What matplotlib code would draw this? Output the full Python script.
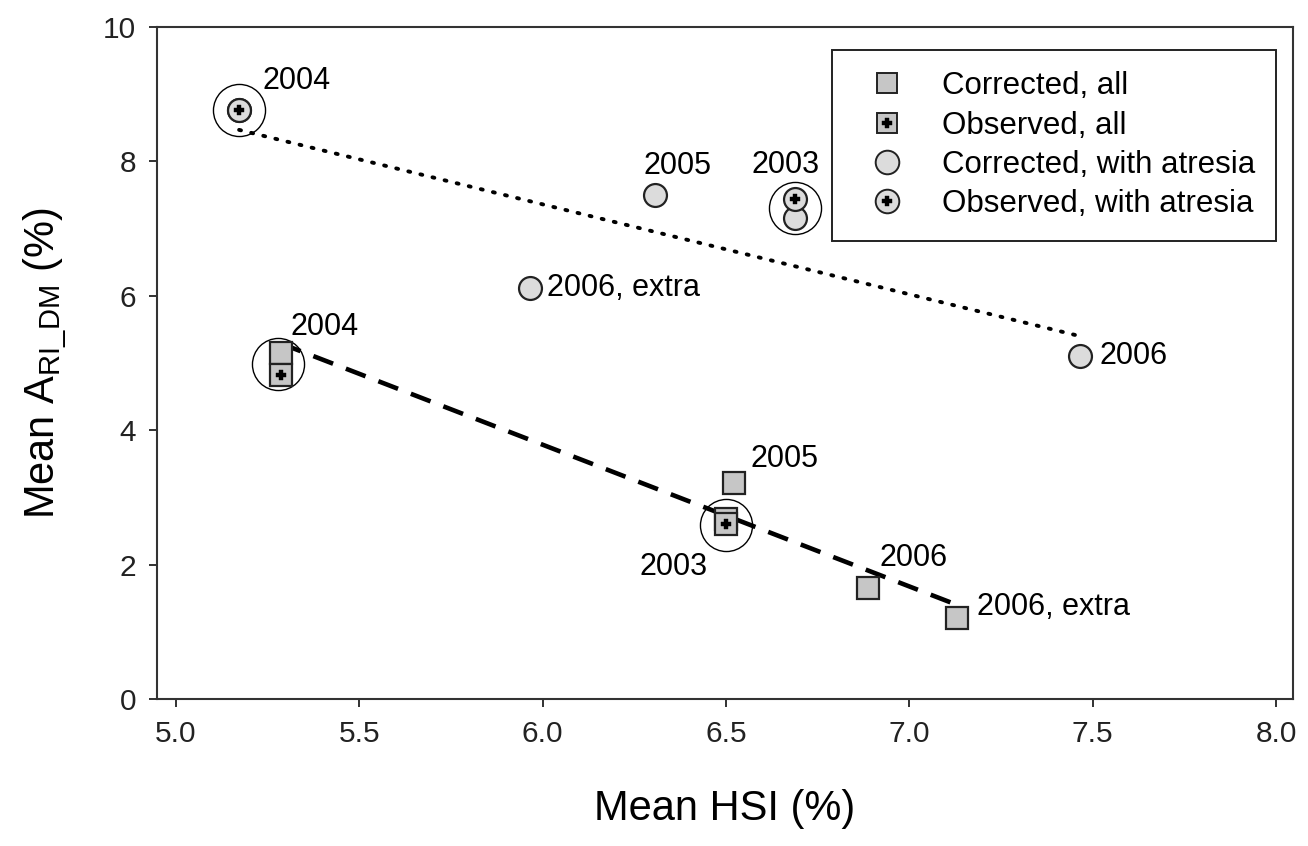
import matplotlib
matplotlib.use("Agg")
import matplotlib.pyplot as plt
from matplotlib.lines import Line2D

plt.rcParams['font.family'] = ['Liberation Sans', 'DejaVu Sans']
plt.rcParams['mathtext.default'] = 'regular'

# all fish: corrected / observed (mean HSI, mean A)
sq_year = ["2004", "2005", "2003", "2006", "2006, extra"]
sq_hsi_corr = [5.286, 6.522, 6.50, 6.887, 7.13]
sq_a_corr = [5.15, 3.21, 2.68, 1.65, 1.20]
sq_hsi_obs = [5.286, 6.50]
sq_a_obs = [4.82, 2.60]

# fish with atresia
ci_year = ["2004", "2005", "2003", "2006, extra", "2006"]
ci_hsi_corr = [5.172, 6.306, 6.688, 5.965, 7.465]
ci_a_corr = [8.77, 7.50, 7.16, 6.12, 5.10]
ci_hsi_obs = [5.172, 6.688]
ci_a_obs = [8.77, 7.44]

# regression lines (end points)
fit_all_x = [5.286, 7.13]
fit_all_y = [5.29, 1.40]
fit_atr_x = [5.172, 7.465]
fit_atr_y = [8.47, 5.40]

# rings around corrected/observed pairs
ring_x = [5.172, 6.688, 5.279, 6.50]
ring_y = [8.77, 7.30, 4.98, 2.59]

sq_col = "#c6c6c6"
ci_col = "#dcdcdc"
edge = "#222222"

fig = plt.figure(figsize=(13.08, 8.46), dpi=100)
ax = fig.add_axes([0.12, 0.1738, 0.8685, 0.7942])

ax.plot(fit_atr_x, fit_atr_y, color="black", lw=2.8, ls=(0, (0.5, 2.7)),
        dash_capstyle="round", zorder=2)
ax.plot(fit_all_x, fit_all_y, color="black", lw=3.3, ls=(0, (4.6, 3.0)), zorder=2)

ax.plot(ring_x, ring_y, ls="none", marker="o", ms=37.5, mfc="none",
        mec="black", mew=1.0, zorder=3)

ax.plot(sq_hsi_corr, sq_a_corr, ls="none", marker="s", ms=15.5, mfc=sq_col,
        mec=edge, mew=1.6, zorder=4)
ax.plot(sq_hsi_obs, sq_a_obs, ls="none", marker="s", ms=15.5, mfc=sq_col,
        mec=edge, mew=1.6, zorder=5)
ax.plot(sq_hsi_obs, sq_a_obs, ls="none", marker="P", ms=7, mfc="black",
        mec="black", mew=0.3, zorder=6)

ax.plot(ci_hsi_corr, ci_a_corr, ls="none", marker="o", ms=16.5, mfc=ci_col,
        mec=edge, mew=1.6, zorder=4)
ax.plot(ci_hsi_obs, ci_a_obs, ls="none", marker="o", ms=16.5, mfc=ci_col,
        mec=edge, mew=1.6, zorder=5)
ax.plot(ci_hsi_obs, ci_a_obs, ls="none", marker="P", ms=7, mfc="black",
        mec="black", mew=0.3, zorder=6)

# year labels
tfs = 22
ax.annotate("2004", (5.172, 8.77), xytext=(17, 10), textcoords="offset points", fontsize=tfs, va="bottom")
ax.annotate("2005", (6.306, 7.50), xytext=(-8, 10), textcoords="offset points", fontsize=tfs, va="bottom")
ax.annotate("2003", (6.688, 7.44), xytext=(-31, 14), textcoords="offset points", fontsize=tfs, va="bottom")
ax.annotate("2006, extra", (5.965, 6.12), xytext=(12, 0), textcoords="offset points", fontsize=tfs, va="center")
ax.annotate("2006", (7.465, 5.10), xytext=(14, 0), textcoords="offset points", fontsize=tfs, va="center")
ax.annotate("2004", (5.286, 5.15), xytext=(7, 8), textcoords="offset points", fontsize=tfs, va="bottom")
ax.annotate("2005", (6.522, 3.21), xytext=(12, 7), textcoords="offset points", fontsize=tfs, va="bottom")
ax.annotate("2003", (6.50, 2.60), xytext=(-62, -20), textcoords="offset points", fontsize=tfs, va="top")
ax.annotate("2006", (6.887, 1.65), xytext=(8, 11), textcoords="offset points", fontsize=tfs, va="bottom")
ax.annotate("2006, extra", (7.13, 1.20), xytext=(14, 8), textcoords="offset points", fontsize=tfs, va="center")

ax.set_xlim(4.948, 8.046)
ax.set_ylim(0, 10)
ax.set_xticks([5.0, 5.5, 6.0, 6.5, 7.0, 7.5, 8.0])
ax.set_xticklabels(["5.0", "5.5", "6.0", "6.5", "7.0", "7.5", "8.0"])
ax.set_yticks([0, 2, 4, 6, 8, 10])
ax.tick_params(direction="out", length=6, width=1.3, labelsize=21.5, pad=9, colors="#222222")
for s in ax.spines.values():
    s.set_linewidth(1.5)
    s.set_color("#333333")

ax.set_xlabel("Mean HSI (%)", fontsize=30, labelpad=30)
ax.set_ylabel(r"Mean A$_{RI\_DM}$ (%)", fontsize=30, labelpad=24)

handles = [
    Line2D([], [], ls="none", marker="s", ms=15, mfc=sq_col, mec=edge, mew=1.4),
    (Line2D([], [], ls="none", marker="s", ms=15, mfc=sq_col, mec=edge, mew=1.4),
     Line2D([], [], ls="none", marker="P", ms=6.5, mfc="black", mec="black", mew=0.3)),
    Line2D([], [], ls="none", marker="o", ms=17, mfc=ci_col, mec=edge, mew=1.4),
    (Line2D([], [], ls="none", marker="o", ms=17, mfc=ci_col, mec=edge, mew=1.4),
     Line2D([], [], ls="none", marker="P", ms=6.5, mfc="black", mec="black", mew=0.3)),
]
labels = ["Corrected, all", "Observed, all", "Corrected, with atresia", "Observed, with atresia"]
leg = ax.legend(handles, labels, loc="upper right", bbox_to_anchor=(0.9855, 0.966),
                fontsize=22.5, frameon=True, fancybox=False, edgecolor="#222222",
                framealpha=1.0, borderpad=0.68, handletextpad=0.67, labelspacing=0.3,
                handlelength=2.18, borderaxespad=0)
leg.get_frame().set_linewidth(1.4)

fig.savefig("out.png", dpi=100)
